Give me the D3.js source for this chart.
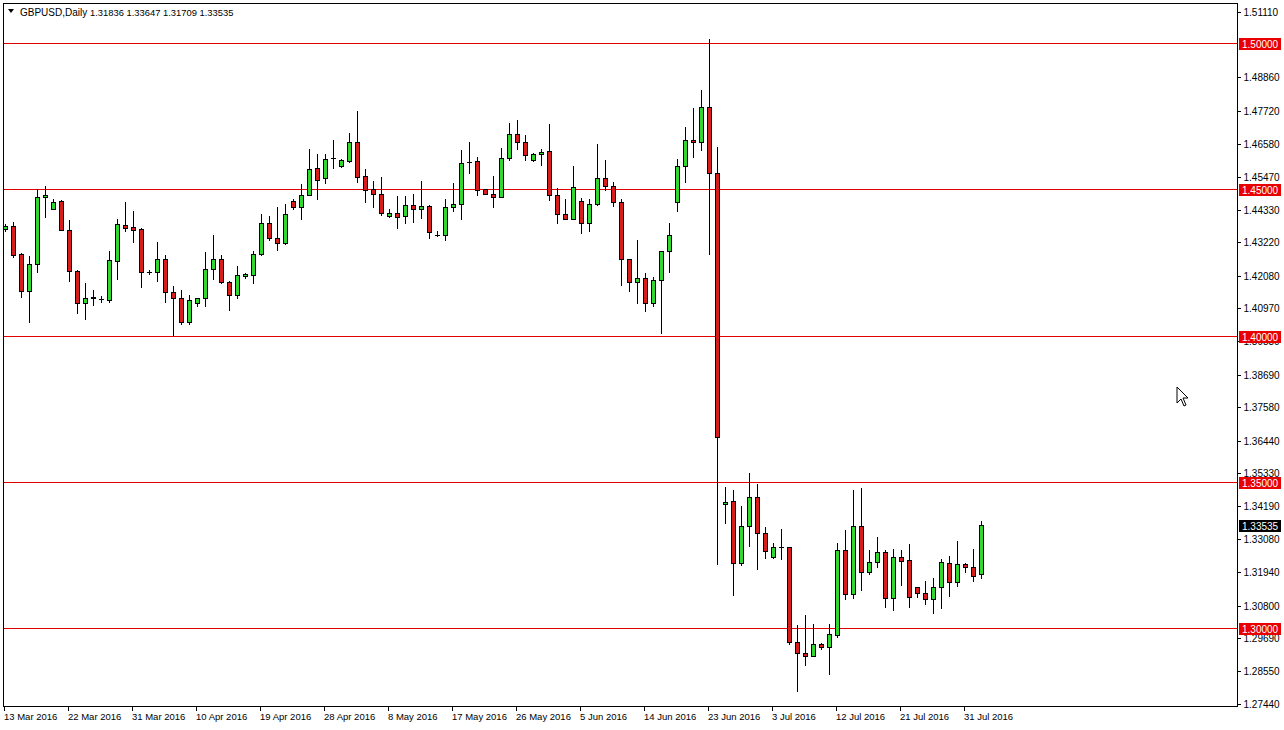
<!DOCTYPE html>
<html><head><meta charset="utf-8">
<script src="https://cdn.jsdelivr.net/npm/d3@7"></script>
<style>
html,body{margin:0;padding:0;background:#fff;}
svg{display:block;font-family:"Liberation Sans",Arial,sans-serif;}
</style></head>
<body>
<svg id="chart" width="1284" height="730"></svg>
<script>
// ---- DATA (GBPUSD Daily, 13 Mar 2016 - 2 Aug 2016) ----
const symbol = "GBPUSD,Daily";
const lastQuote = [1.31836, 1.33647, 1.31709, 1.33535];
const open = [1.4363,1.4374,1.4277,1.4151,1.4246,1.4472,1.4434,1.4459,1.4362,1.4220,1.4110,1.4127,1.4125,1.4123,1.4255,1.4379,1.4370,1.4363,1.4216,1.4218,1.4260,1.4149,1.4127,1.4047,1.4110,1.4127,1.4229,1.4263,1.4183,1.4138,1.4204,1.4208,1.4280,1.4383,1.4332,1.4317,1.4459,1.4440,1.4481,1.4571,1.4537,1.4607,1.4579,1.4597,1.4660,1.4544,1.4502,1.4485,1.4409,1.4420,1.4407,1.4445,1.4431,1.4443,1.4345,1.4345,1.4438,1.4451,1.4594,1.4596,1.4500,1.4485,1.4474,1.4608,1.4690,1.4660,1.4599,1.4619,1.4630,1.4480,1.4415,1.4400,1.4459,1.4383,1.4451,1.4537,1.4510,1.4457,1.4260,1.4183,1.4198,1.4112,1.4189,1.4288,1.4455,1.4579,1.4668,1.4660,1.4781,1.4554,1.3423,1.3434,1.3221,1.3349,1.3447,1.3324,1.3242,1.3278,1.3278,1.2953,1.2914,1.2904,1.2944,1.2936,1.2976,1.3267,1.3115,1.3349,1.3190,1.3227,1.3259,1.3101,1.3242,1.3231,1.3139,1.3119,1.3098,1.3141,1.3221,1.3156,1.3218,1.3209,1.31836];
const high = [1.4380,1.4388,1.4281,1.4271,1.4500,1.4511,1.4466,1.4463,1.4394,1.4223,1.4178,1.4155,1.4134,1.4288,1.4400,1.4457,1.4425,1.4369,1.4223,1.4320,1.4275,1.4170,1.4155,1.4138,1.4127,1.4286,1.4345,1.4275,1.4186,1.4238,1.4215,1.4289,1.4415,1.4408,1.4438,1.4449,1.4466,1.4517,1.4637,1.4622,1.4620,1.4668,1.4603,1.4694,1.4767,1.4568,1.4527,1.4541,1.4432,1.4477,1.4477,1.4485,1.4527,1.4445,1.4357,1.4466,1.4520,1.4633,1.4662,1.4610,1.4502,1.4545,1.4641,1.4725,1.4736,1.4685,1.4624,1.4636,1.4722,1.4503,1.4468,1.4579,1.4471,1.4468,1.4656,1.4599,1.4525,1.4468,1.4263,1.4326,1.4212,1.4200,1.4288,1.4385,1.4605,1.4713,1.4779,1.4838,1.5015,1.4645,1.3481,1.3472,1.3417,1.3529,1.3492,1.3344,1.3289,1.3337,1.3278,1.3010,1.3044,1.3014,1.2949,1.3014,1.3289,1.3335,1.3472,1.3477,1.3267,1.3310,1.3267,1.3269,1.3267,1.3286,1.3139,1.3161,1.3170,1.3235,1.3246,1.3297,1.3222,1.3270,1.33647];
const low = [1.4357,1.4267,1.4132,1.4047,1.4217,1.4405,1.4434,1.4362,1.4186,1.4077,1.4055,1.4104,1.4115,1.4115,1.4192,1.4357,1.4320,1.4166,1.4209,1.4186,1.4115,1.4001,1.4040,1.4038,1.4101,1.4101,1.4193,1.4181,1.4087,1.4129,1.4198,1.4180,1.4275,1.4326,1.4294,1.4312,1.4433,1.4399,1.4481,1.4467,1.4520,1.4574,1.4576,1.4594,1.4526,1.4457,1.4440,1.4411,1.4406,1.4369,1.4386,1.4388,1.4402,1.4335,1.4341,1.4327,1.4425,1.4400,1.4556,1.4482,1.4484,1.4438,1.4472,1.4599,1.4636,1.4599,1.4597,1.4584,1.4462,1.4383,1.4400,1.4397,1.4349,1.4358,1.4445,1.4499,1.4442,1.4172,1.4153,1.4110,1.4084,1.4100,1.4007,1.4218,1.4426,1.4525,1.4610,1.4633,1.4278,1.3219,1.3358,1.3113,1.3215,1.3280,1.3201,1.3238,1.3238,1.3235,1.2945,1.2786,1.2874,1.2903,1.2927,1.2843,1.2970,1.3098,1.3101,1.3130,1.3183,1.3207,1.3071,1.3062,1.3147,1.3073,1.3107,1.3082,1.3050,1.3067,1.3110,1.3145,1.3192,1.3161,1.31709];
const close = [1.4374,1.4276,1.4151,1.4246,1.4472,1.4480,1.4458,1.4362,1.4219,1.4110,1.4128,1.4133,1.4125,1.4257,1.4380,1.4368,1.4361,1.4218,1.4216,1.4260,1.4149,1.4127,1.4047,1.4120,1.4127,1.4229,1.4263,1.4183,1.4138,1.4206,1.4210,1.4280,1.4383,1.4332,1.4317,1.4417,1.4440,1.4482,1.4568,1.4533,1.4605,1.4607,1.4599,1.4660,1.4543,1.4499,1.4485,1.4420,1.4420,1.4406,1.4445,1.4431,1.4442,1.4354,1.4345,1.4438,1.4451,1.4591,1.4594,1.4497,1.4485,1.4474,1.4608,1.4690,1.4660,1.4616,1.4620,1.4629,1.4480,1.4414,1.4400,1.4508,1.4383,1.4451,1.4537,1.4510,1.4457,1.4260,1.4183,1.4198,1.4112,1.4189,1.4288,1.4345,1.4579,1.4668,1.4660,1.4781,1.4554,1.3652,1.3432,1.3221,1.3349,1.3447,1.3324,1.3264,1.3278,1.3278,1.2953,1.2914,1.2904,1.2944,1.2936,1.2979,1.3267,1.3115,1.3349,1.3190,1.3227,1.3260,1.3101,1.3242,1.3230,1.3105,1.3119,1.3098,1.3141,1.3226,1.3156,1.3218,1.3209,1.3179,1.33535];
const levelLines = [1.50, 1.45, 1.40, 1.35, 1.30];
const priceTicks = [1.51110,1.48860,1.47720,1.46580,1.45470,1.44330,1.43220,1.42080,1.40970,1.39830,1.38690,1.37580,1.36440,1.35330,1.34190,1.33080,1.31940,1.30800,1.29690,1.28550,1.27440];
const dateTicks = ["13 Mar 2016","22 Mar 2016","31 Mar 2016","10 Apr 2016","19 Apr 2016","28 Apr 2016","8 May 2016","17 May 2016","26 May 2016","5 Jun 2016","14 Jun 2016","23 Jun 2016","3 Jul 2016","12 Jul 2016","21 Jul 2016","31 Jul 2016"];

// categories: trading days (broker shows Sunday bars, no Saturday bars)
const months = ["Jan","Feb","Mar","Apr","May","Jun","Jul","Aug","Sep","Oct","Nov","Dec"];
const dates = [];
{ const d = new Date(Date.UTC(2016, 2, 13));
  while (dates.length < open.length) {
    if (d.getUTCDay() !== 6) dates.push(d.getUTCDate() + " " + months[d.getUTCMonth()] + " " + d.getUTCFullYear());
    d.setUTCDate(d.getUTCDate() + 1);
  } }

const bars = dates.map((dt, i) => ({date: dt, o: open[i], h: high[i], l: low[i], c: close[i]}));

// ---- LAYOUT ----
const svg = d3.select("#chart");
const W = 1284, H = 730;
const plotL = 3.5, plotR = 1237.5, plotT = 3.5, plotB = 706.5;
const GREEN = "#30d830", RED = "#d81c1c", LINE_RED = "#e00000";

const x = d3.scalePoint().domain(dates).range([5, 981]);
const y = d3.scaleLinear().domain([1.30, 1.50]).range([628, 43]);
const px = v => Math.round(y(v) + 1e-6);

svg.append("rect").attr("x", 0).attr("y", 0).attr("width", W).attr("height", H).attr("fill", "#fff");

// plot frame
svg.append("rect").attr("x", plotL).attr("y", plotT).attr("width", plotR - plotL).attr("height", plotB - plotT)
  .attr("fill", "none").attr("stroke", "#000").attr("stroke-width", 1).attr("shape-rendering", "crispEdges");

// horizontal level lines (1px filled rects)
svg.append("g").selectAll("rect").data(levelLines).join("rect")
  .attr("x", 4).attr("width", 1233)
  .attr("y", d => px(d)).attr("height", 1)
  .attr("fill", LINE_RED);

// candles
const g = svg.append("g").attr("shape-rendering", "crispEdges");
const cg = g.selectAll("g").data(bars).join("g");
cg.append("rect")
  .attr("x", d => x(d.date)).attr("width", 1)
  .attr("y", d => px(d.h)).attr("height", d => px(d.l) - px(d.h) + 1)
  .attr("fill", "#000");
cg.each(function(d) {
  const sel = d3.select(this);
  const cx = x(d.date);
  const top = px(Math.max(d.o, d.c)), bot = px(Math.min(d.o, d.c));
  if (bot - top < 2) {
    sel.append("rect").attr("x", cx - 2).attr("width", 5)
      .attr("y", top).attr("height", bot - top + 1).attr("fill", "#000");
  } else {
    sel.append("rect").attr("x", cx - 1.5).attr("y", top + 0.5)
      .attr("width", 4).attr("height", bot - top)
      .attr("fill", d.c >= d.o ? GREEN : RED).attr("stroke", "#000").attr("stroke-width", 1);
  }
});

// right price axis
const axisG = svg.append("g").attr("transform", `translate(${plotR},0)`);
const yAxis = d3.axisRight(y).tickValues(priceTicks).tickSize(3).tickPadding(3).tickFormat(d3.format(".5f"));
axisG.call(yAxis);
axisG.select(".domain").remove();
axisG.selectAll(".tick").attr("transform", d => `translate(0,${px(d) + 1.5})`);
axisG.selectAll(".tick line").attr("stroke", "#000").attr("shape-rendering", "crispEdges");
axisG.selectAll(".tick text").attr("fill", "#000").attr("font-size", "10px")
  .attr("font-family", "Liberation Sans, Arial, sans-serif");

// level price tags
const tagG = svg.append("g");
levelLines.forEach(v => {
  const yy = px(v);
  tagG.append("rect").attr("x", 1239).attr("y", yy - 5).attr("width", 42).attr("height", 12).attr("fill", "#e80000");
  tagG.append("text").attr("x", 1242).attr("y", yy + 5).attr("font-size", "10px").attr("fill", "#fff")
    .text(d3.format(".5f")(v));
});
{ const v = lastQuote[3], yy = px(v);
  tagG.append("rect").attr("x", 1239).attr("y", yy - 5).attr("width", 42).attr("height", 12).attr("fill", "#000");
  tagG.append("text").attr("x", 1242).attr("y", yy + 5).attr("font-size", "10px").attr("fill", "#fff")
    .text(d3.format(".5f")(v)); }

// bottom date axis
const dG = svg.append("g");
dateTicks.forEach(t => {
  const xx = x(t);
  if (xx === undefined) return;
  dG.append("line").attr("x1", xx - 0.5).attr("x2", xx - 0.5).attr("y1", plotB).attr("y2", plotB + 4)
    .attr("stroke", "#000").attr("shape-rendering", "crispEdges");
  dG.append("text").attr("x", xx - 1).attr("y", 720).attr("font-size", "9.5px").attr("fill", "#000").text(t);
});

// header
svg.append("path").attr("d", "M8,9 L14,9 L11,13 Z").attr("fill", "#000");
svg.append("text").attr("x", 20).attr("y", 16).attr("font-size", "10px").attr("fill", "#000").text(symbol);
svg.append("text").attr("x", 90).attr("y", 16).attr("font-size", "9.4px").attr("fill", "#000")
  .text(lastQuote.map(d3.format(".5f")).join(" "));

// mouse pointer
svg.append("path").attr("d", "M1177,387 L1177,403 L1181,399 L1184,406 L1186,405 L1183,398 L1188,398 Z")
  .attr("fill", "#fff").attr("stroke", "#000").attr("stroke-width", 1);
</script>
</body></html>
